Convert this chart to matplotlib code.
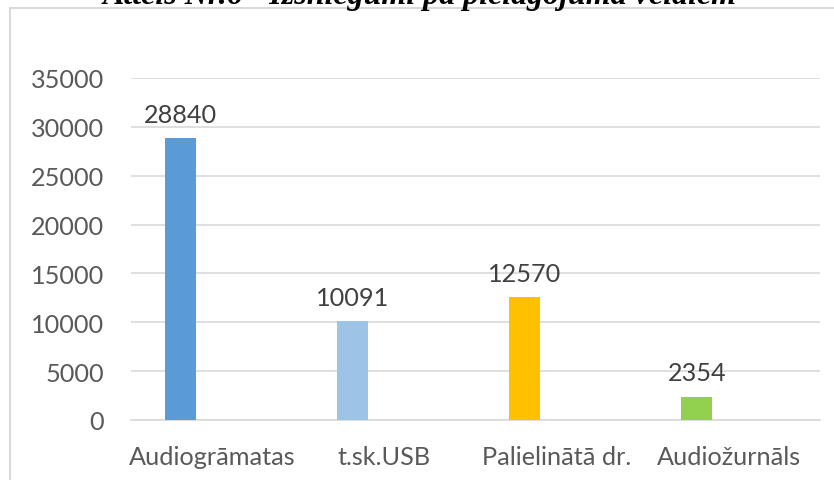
import matplotlib
matplotlib.use('Agg')
import matplotlib.pyplot as plt
from matplotlib.patches import Rectangle
import numpy as np

# dati no attēla
kategorijas = ["Audiogrāmatas", "t.sk.USB", "Palielinātā dr.", "Audiožurnāls"]
vertibas = [28840, 10091, 12570, 2354]
krasas = ["#5B9BD5", "#9DC3E6", "#FFC000", "#92D050"]
yticks = [0, 5000, 10000, 15000, 20000, 25000, 30000, 35000]
virsraksts = "Attēls Nr.6 - Izsniegumi pa pielāgojuma veidiem"

W, H = 834, 481
fig = plt.figure(figsize=(W / 100, H / 100), dpi=100)

# rāmis ap diagrammu (iziet ārpus attēla)
fig.patches.append(Rectangle((9.5 / W, -0.1), 1.0, 1.1 - 8.5 / H, transform=fig.transFigure,
                             fill=False, edgecolor="#D9D9D9", linewidth=1.5))

# virsraksts, augšdaļa nogriezta
fig.text(420 / W, 1 - 4 / H, virsraksts, ha="center", va="baseline",
         fontsize=23, fontweight="bold", fontstyle="italic", family="Liberation Serif")

ax = fig.add_axes([131 / W, (H - 421) / H, 689 / W, 342 / H])
x = np.arange(len(kategorijas))
off = -0.215
bars = ax.bar(x + off, vertibas, width=0.18, color=krasas, zorder=3)

for b, v in zip(bars, vertibas):
    ax.annotate(str(v), (b.get_x() + b.get_width() / 2, v), xytext=(0, 9),
                textcoords="offset points", ha="center", va="bottom",
                fontsize=18.2, color="#404040", family="Lato")

ax.set_xlim(-0.5, len(kategorijas) - 0.5)
ax.set_ylim(0, 35000)
ax.set_yticks(yticks)
ax.set_yticklabels([str(t) for t in yticks], fontsize=18.2, color="#595959", family="Lato")
ax.set_xticks(x - 0.03)
ax.set_xticklabels(kategorijas, fontsize=18.2, color="#595959", family="Lato")
ax.tick_params(axis="both", length=0)
ax.tick_params(axis="y", pad=19.5)
ax.tick_params(axis="x", pad=18)
ax.grid(axis="y", color="#D9D9D9", linewidth=1.2, zorder=0)
for s in ["top", "right", "left"]:
    ax.spines[s].set_visible(False)
ax.spines["bottom"].set_color("#D9D9D9")
ax.spines["bottom"].set_linewidth(1.2)

plt.savefig("out.png", dpi=100)
